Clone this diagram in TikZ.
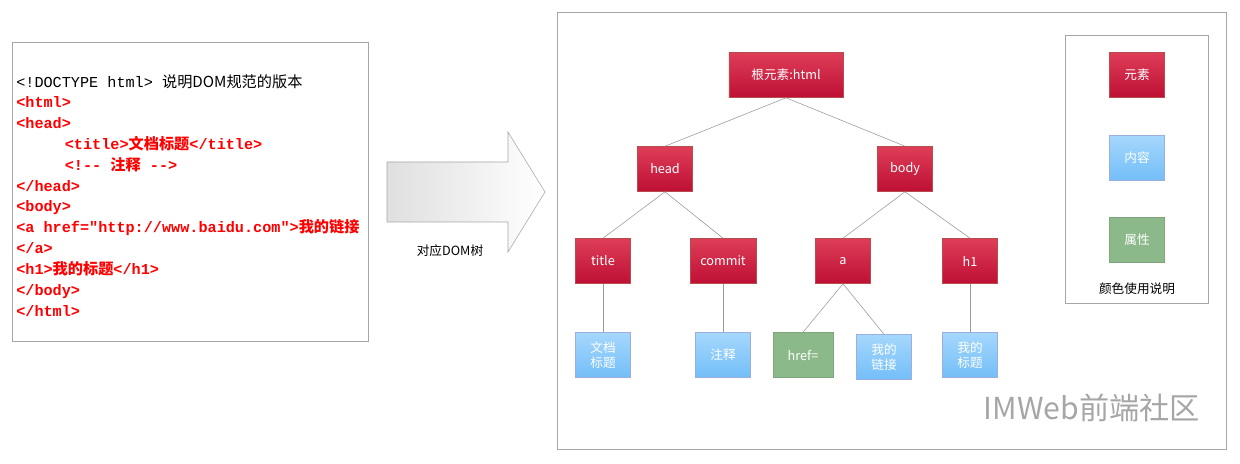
\documentclass[tikz,border=0pt]{standalone}
\usepackage{fontspec}
\setmainfont{Liberation Sans}
\setmonofont{Liberation Mono}
\newfontfamily\cjk{Noto Sans CJK SC}
\usetikzlibrary{positioning}

\tikzset{
  elem/.style={draw=red!60!black!70, top color={rgb,255:red,222;green,62;blue,88}, bottom color={rgb,255:red,190;green,15;blue,52},
    text=white, minimum width=1.375cm, minimum height=1.125cm, font=\cjk\small, inner sep=2pt},
  cont/.style={draw=cyan!40!blue!40, top color={rgb,255:red,165;green,215;blue,252}, bottom color={rgb,255:red,115;green,190;blue,248},
    text=white, minimum width=1.375cm, minimum height=1.125cm, font=\cjk\small, align=center, inner sep=1pt},
  attr/.style={draw=green!30!black!50, fill={rgb,255:red,140;green,185;blue,138},
    text=white, minimum width=1.5cm, minimum height=1.125cm, font=\cjk\small},
  link/.style={draw=gray!80, thin}
}

\begin{document}
\begin{tikzpicture}[x=0.025cm, y=-0.025cm]
  \useasboundingbox (0,0) rectangle (1240,464);

  % source code
  \draw[gray!70] (12,42) rectangle (368,341);
  \node[anchor=north west, align=left, font=\ttfamily\fontsize{10.8}{14.8}\selectfont, inner sep=0pt] (code) at (16,74) {%
    <!DOCTYPE html> {\cjk 说明DOM规范的版本}\\
    \color{red}\bfseries <html>\\
    \color{red}\bfseries <head>\\
    \color{red}\bfseries \hspace*{3.2em}<title>{\cjk 文档标题}</title>\\
    \color{red}\bfseries \hspace*{3.2em}<!-- {\cjk 注释} -->\\
    \color{red}\bfseries </head>\\
    \color{red}\bfseries <body>\\
    \color{red}\bfseries <a href="http://www.baidu.com">{\cjk 我的链接}\\
    \color{red}\bfseries </a>\\
    \color{red}\bfseries <h1>{\cjk 我的标题}</h1>\\
    \color{red}\bfseries </body>\\
    \color{red}\bfseries </html>};

  % arrow
  \shade[left color=gray!25, right color=white, draw=gray!70]
    (387,162) -- (508,162) -- (508,132) -- (545,192) -- (508,252) -- (508,222) -- (387,222) -- cycle;
  \node[font=\cjk\small] (maplabel) at (450,251) {对应DOM树};

  % DOM tree
  \draw[gray!70] (557,12) rectangle (1226,449);
  \node[elem, minimum width=2.85cm] (root) at (786,75) {根元素:html};
  \node[elem] (head) at (665,169) {head};
  \node[elem] (body) at (905,169) {body};
  \node[elem] (title) at (603,261) {title};
  \node[elem, minimum width=1.65cm] (commit) at (723,261) {commit};
  \node[elem] (a) at (843,261) {a};
  \node[elem] (h1) at (970,261) {h1};
  \node[cont] (titletext) at (603,355) {文档\\标题};
  \node[cont] (committext) at (723,355) {注释};
  \node[attr] (href) at (803,355) {href=};
  \node[cont] (atext) at (884,357) {我的\\链接};
  \node[cont] (h1text) at (970,355) {我的\\标题};

  \draw[link] (root.south) -- (head.north);
  \draw[link] (root.south) -- (body.north);
  \draw[link] (head.south) -- (title.north);
  \draw[link] (head.south) -- (commit.north);
  \draw[link] (body.south) -- (a.north);
  \draw[link] (body.south) -- (h1.north);
  \draw[link] (title.south) -- (titletext.north);
  \draw[link] (commit.south) -- (committext.north);
  \draw[link] (a.south) -- (href.north);
  \draw[link] (a.south) -- (atext.north);
  \draw[link] (h1.south) -- (h1text.north);

  % legend
  \draw[gray!70] (1065,35) rectangle (1208,303);
  \node[elem] (legelem) at (1137,75) {元素};
  \node[cont] (legcont) at (1137,158) {内容};
  \node[attr, minimum width=1.375cm] (legattr) at (1137,240) {属性};
  \node[font=\cjk\small] (legtitle) at (1137,289) {颜色使用说明};

  % watermark
  \node[font=\cjk\fontsize{21.5}{24}\selectfont, text=gray!70] (mark) at (1092,408) {IMWeb前端社区};
\end{tikzpicture}
\end{document}
